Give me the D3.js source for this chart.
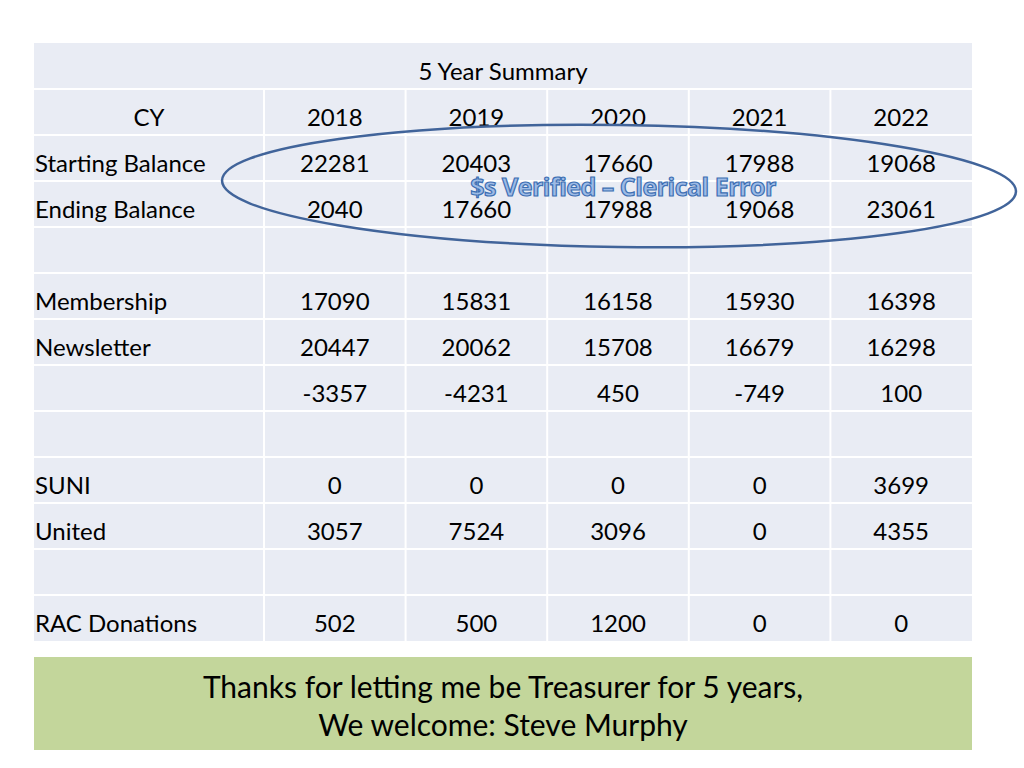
<!DOCTYPE html><html><head><meta charset="utf-8"><script src="https://cdn.jsdelivr.net/npm/d3@7"></script>
<style>body{margin:0;background:#fff}</style></head><body><svg id="c" width="1024" height="768"></svg>
<script>
const title = "5 Year Summary";
const years = ["2018","2019","2020","2021","2022"];
const rowLabels = ["Starting Balance","Ending Balance","","Membership","Newsletter","","","SUNI","United","","RAC Donations"];
const rowValues = [
 ["22281","20403","17660","17988","19068"],
 ["2040","17660","17988","19068","23061"],
 ["","","","",""],
 ["17090","15831","16158","15930","16398"],
 ["20447","20062","15708","16679","16298"],
 ["-3357","-4231","450","-749","100"],
 ["","","","",""],
 ["0","0","0","0","3699"],
 ["3057","7524","3096","0","4355"],
 ["","","","",""],
 ["502","500","1200","0","0"]
];
const annotation = "$s Verified \u2013 Clerical Error";
const footer = ["Thanks for letting me be Treasurer for 5 years,","We welcome: Steve Murphy"];

const svg = d3.select("#c");
const font = "Lato, 'Open Sans', sans-serif";
const nRows = rowLabels.length + 2;
const y = d3.scaleBand().domain(d3.range(nRows)).range([43,641]);
const xCol = d3.scaleBand().domain(d3.range(5)).range([264,972]);
const L = 34, R = 972;
svg.append("rect").attr("x",L).attr("y",43).attr("width",R-L).attr("height",641-43).attr("fill","#e9ecf4");
svg.selectAll("line.h").data(d3.range(1,nRows)).join("line")
 .attr("x1",L).attr("x2",R).attr("y1",d=>y(d)).attr("y2",d=>y(d)).attr("stroke","#fff").attr("stroke-width",2);
svg.selectAll("line.v").data(d3.range(5)).join("line")
 .attr("x1",d=>xCol(d)).attr("x2",d=>xCol(d)).attr("y1",y(1)).attr("y2",641).attr("stroke","#fff").attr("stroke-width",2);
const T = (x,yy,t,anchor)=>svg.append("text").attr("x",x).attr("y",yy).attr("text-anchor",anchor||"middle")
 .attr("dominant-baseline","central").attr("font-family",font).attr("font-size",24).attr("fill","#000").text(t);
const off = 4;
T(503, y(0)+y.bandwidth()/2+off, title);
T(149, y(1)+y.bandwidth()/2+off, "CY");
years.forEach((yr,i)=>T(xCol(i)+xCol.bandwidth()/2, y(1)+y.bandwidth()/2+off, yr));
rowLabels.forEach((lb,r)=>{
  if(lb) T(35, y(r+2)+y.bandwidth()/2+off, lb, "start");
  rowValues[r].forEach((v,i)=>{ if(v) T(xCol(i)+xCol.bandwidth()/2, y(r+2)+y.bandwidth()/2+off, v); });
});
svg.append("ellipse").attr("cx",619).attr("cy",186).attr("rx",397).attr("ry",61)
 .attr("transform","rotate(0.8,619,186)")
 .attr("fill","none").attr("stroke","#41649a").attr("stroke-width",2.5);
svg.append("text").attr("x",623).attr("y",186).attr("text-anchor","middle").attr("dominant-baseline","central")
 .attr("font-family","'Liberation Sans Narrow', 'Open Sans', sans-serif").attr("font-weight","bold").attr("font-size",25)
 .attr("fill","#9dbbe6").attr("stroke","#3d6fb3").attr("stroke-width",1.2).attr("letter-spacing",-0.5).text(annotation);
svg.append("rect").attr("x",L).attr("y",657).attr("width",R-L).attr("height",93).attr("fill","#c3d69b");
footer.forEach((t,i)=>svg.append("text").attr("x",503).attr("y",686+i*38).attr("text-anchor","middle")
 .attr("dominant-baseline","central").attr("font-family",font).attr("font-size",30).attr("fill","#000").text(t));
</script></body></html>
